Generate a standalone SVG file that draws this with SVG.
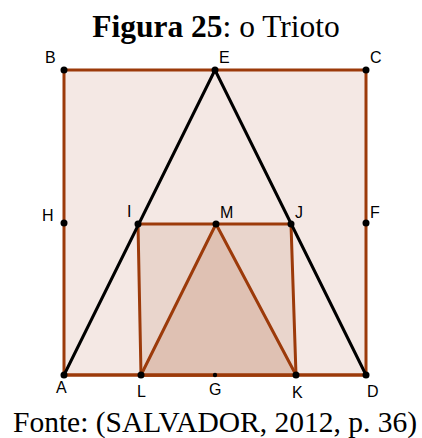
<svg xmlns="http://www.w3.org/2000/svg" width="422" height="438" viewBox="0 0 422 438">
<style>
.title{font-family:"Liberation Serif","Times New Roman",serif;font-size:31.5px;fill:#000}
.cap{font-family:"Liberation Serif","Times New Roman",serif;font-size:29.5px;fill:#000}
.lbl{font-family:"Liberation Sans",Arial,sans-serif;font-size:16px;fill:#000}
.edge{stroke:#9c3a0a;stroke-width:3;stroke-linejoin:round}
.blk{stroke:#000;stroke-width:3;fill:none;stroke-linejoin:round}
.pt{fill:#000}
.f0{fill:#f4e8e4}
.f1{fill:#e9d5cc}
.f2{fill:#dfc1b3}
</style>
<rect width="422" height="438" fill="#fff"/>
<text class="title" x="216" y="37" text-anchor="middle"><tspan font-weight="bold">Figura 25</tspan>: o Trioto</text>
<g id="square">
<polygon class="edge f0" points="64,70 366,70 366,375 64,375"/>
</g>
<g id="quad">
<polygon class="edge f1" points="138,224 291,224 296,375 141,375"/>
</g>
<g id="triangle">
<polygon class="edge f2" points="141,375 216,224 296,375"/>
</g>
<g id="connectors">
<polyline class="blk" points="64,375 215,70 366,375"/>
<line class="edge" x1="64" y1="375" x2="366" y2="375"/>
</g>
<g id="points">
<g id="B"><circle class="pt" cx="64" cy="70" r="3.5"/><text class="lbl" x="45" y="63">B</text></g>
<g id="E"><circle class="pt" cx="215" cy="70" r="3.5"/><text class="lbl" x="219" y="63">E</text></g>
<g id="C"><circle class="pt" cx="366" cy="70" r="3.5"/><text class="lbl" x="370" y="63">C</text></g>
<g id="H"><circle class="pt" cx="64" cy="223" r="3.5"/><text class="lbl" x="42" y="221">H</text></g>
<g id="F"><circle class="pt" cx="366" cy="223" r="3.5"/><text class="lbl" x="370" y="218">F</text></g>
<g id="I"><circle class="pt" cx="138" cy="224" r="3.5"/><text class="lbl" x="127" y="217">I</text></g>
<g id="M"><circle class="pt" cx="216" cy="224" r="3.5"/><text class="lbl" x="220" y="218">M</text></g>
<g id="J"><circle class="pt" cx="291" cy="224" r="3.5"/><text class="lbl" x="295" y="218">J</text></g>
<g id="A"><circle class="pt" cx="64" cy="375" r="3.5"/><text class="lbl" x="56" y="393">A</text></g>
<g id="L"><circle class="pt" cx="141" cy="375" r="3.5"/><text class="lbl" x="137" y="397">L</text></g>
<g id="G"><circle class="pt" cx="215" cy="375" r="2.2"/><text class="lbl" x="209" y="395">G</text></g>
<g id="K"><circle class="pt" cx="296" cy="375" r="3.5"/><text class="lbl" x="292" y="398">K</text></g>
<g id="D"><circle class="pt" cx="366" cy="375" r="3.5"/><text class="lbl" x="367" y="397">D</text></g>
</g>
<text class="cap" x="215" y="432" text-anchor="middle">Fonte: (SALVADOR, 2012, p. 36)</text>
</svg>
